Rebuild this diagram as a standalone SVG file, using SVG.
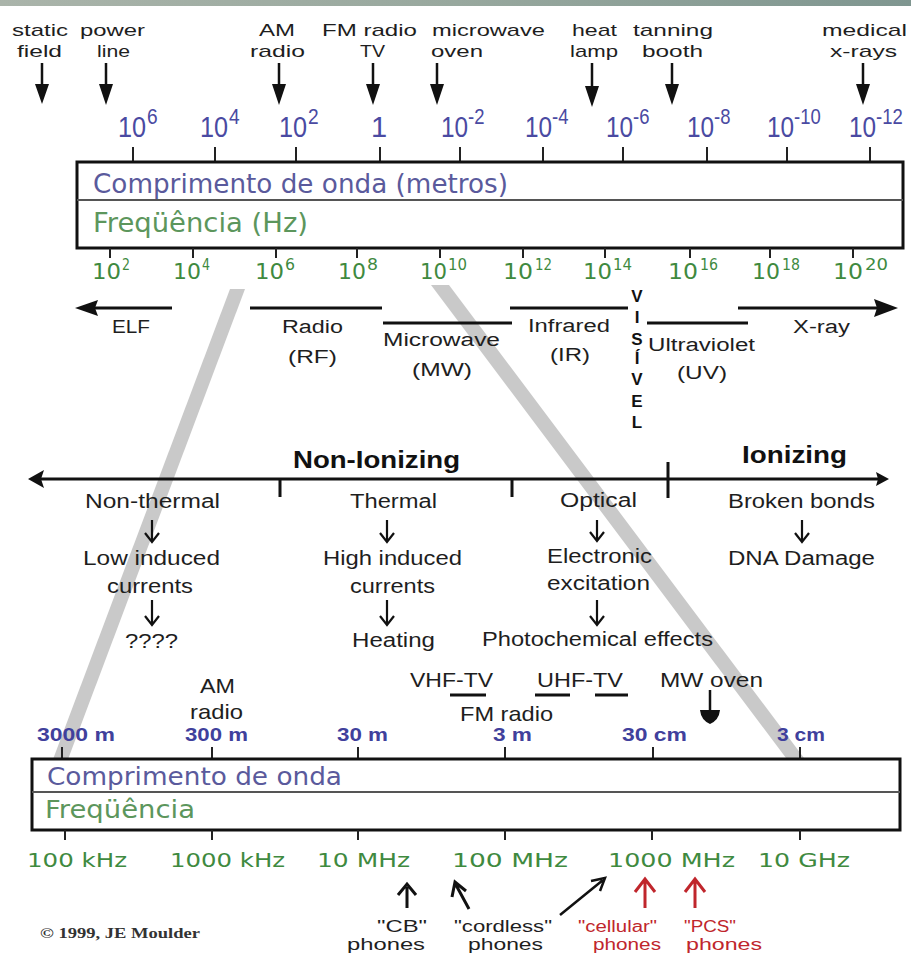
<svg xmlns="http://www.w3.org/2000/svg" width="911" height="956" viewBox="0 0 911 956">
<defs>
<linearGradient id="strip" x1="0" y1="0" x2="1" y2="0">
<stop offset="0" stop-color="#aab4aa"/>
<stop offset="0.5" stop-color="#98a89e"/>
<stop offset="1" stop-color="#7f9690"/>
</linearGradient>
<style>
.t{font-family:"Liberation Sans",Arial,sans-serif;fill:#1e1e1e}
.top{font-size:17px}
.bnd{font-size:18px}
.eff{font-size:20px}
.low{font-size:21px}
.ph{font-size:16px}
.b{font-weight:bold;fill:#111}
.red{fill:#c0262c}
.vis{font-family:"Liberation Sans",Arial,sans-serif;font-weight:bold;font-size:17px;fill:#111;text-anchor:middle}
.nt{font-family:"Liberation Sans",Arial,sans-serif;font-size:29px;fill:#4a4aa2}
.sup{font-size:22px}
.nf{font-family:"DejaVu Sans",sans-serif;font-size:21px;fill:#3f8a3f}
.nfs{font-family:"DejaVu Sans",sans-serif;font-size:15px;fill:#3f8a3f}
.bw{font-family:"DejaVu Sans",sans-serif;font-size:26px;fill:#5a5a9c}
.bf{font-family:"DejaVu Sans",sans-serif;font-size:26px;fill:#5c965c}
.sw{font-family:"Liberation Sans",Arial,sans-serif;font-size:19px;font-weight:bold;fill:#40409c}
.sf{font-family:"DejaVu Sans",sans-serif;font-size:20px;fill:#3f8a3f}
.cp{font-family:"Liberation Serif","Times New Roman",serif;font-size:14px;font-weight:bold;fill:#333}
.ln{stroke:#111;stroke-width:3;fill:none}
.thin{stroke:#111;stroke-width:2.2;fill:none}
.tk{stroke:#222;stroke-width:2}
.gb{fill:#c9c9c9}
.box{fill:#fff;stroke:#111;stroke-width:3}
.div{stroke:#555;stroke-width:2}
.ah{fill:#111}
.rl{stroke:#c0262c;stroke-width:3;fill:none}
</style>
</defs>
<rect width="911" height="956" fill="#fff"/>
<rect x="0" y="0" width="911" height="6" fill="url(#strip)"/>

<g id="gray-bands">
<polygon class="gb" points="230,289 245,289 67,762 52,762"/>
<polygon class="gb" points="431,285 449,285 807,762 789,762"/>
</g>

<g id="sources-top">
<text class="t top" x="12" y="36" textLength="56" lengthAdjust="spacingAndGlyphs">static</text>
<text class="t top" x="17" y="57" textLength="45" lengthAdjust="spacingAndGlyphs">field</text>
<text class="t top" x="80" y="36" textLength="65" lengthAdjust="spacingAndGlyphs">power</text>
<text class="t top" x="97" y="57" textLength="33" lengthAdjust="spacingAndGlyphs">line</text>
<text class="t top" x="259" y="36" textLength="36" lengthAdjust="spacingAndGlyphs">AM</text>
<text class="t top" x="250" y="57" textLength="55" lengthAdjust="spacingAndGlyphs">radio</text>
<text class="t top" x="322" y="36" textLength="95" lengthAdjust="spacingAndGlyphs">FM radio</text>
<text class="t top" x="360" y="57" textLength="25" lengthAdjust="spacingAndGlyphs">TV</text>
<text class="t top" x="432" y="36" textLength="113" lengthAdjust="spacingAndGlyphs">microwave</text>
<text class="t top" x="431" y="57" textLength="52" lengthAdjust="spacingAndGlyphs">oven</text>
<text class="t top" x="572" y="36" textLength="45" lengthAdjust="spacingAndGlyphs">heat</text>
<text class="t top" x="570" y="57" textLength="48" lengthAdjust="spacingAndGlyphs">lamp</text>
<text class="t top" x="633" y="36" textLength="80" lengthAdjust="spacingAndGlyphs">tanning</text>
<text class="t top" x="642" y="57" textLength="61" lengthAdjust="spacingAndGlyphs">booth</text>
<text class="t top" x="822" y="36" textLength="85" lengthAdjust="spacingAndGlyphs">medical</text>
<text class="t top" x="830" y="57" textLength="67" lengthAdjust="spacingAndGlyphs">x-rays</text>
</g>

<g id="wavelength-scale">
<text class="nt" transform="translate(118,137) scale(0.87,1)">10<tspan class="sup" dx="1" dy="-13">6</tspan></text>
<text class="nt" transform="translate(200,137) scale(0.87,1)">10<tspan class="sup" dx="1" dy="-13">4</tspan></text>
<text class="nt" transform="translate(279,137) scale(0.87,1)">10<tspan class="sup" dx="1" dy="-13">2</tspan></text>
<text class="nt" x="379" y="137" text-anchor="middle">1</text>
<text class="nt" transform="translate(441,137) scale(0.84,1)">10<tspan class="sup" dx="0" dy="-13">-2</tspan></text>
<text class="nt" transform="translate(525,137) scale(0.84,1)">10<tspan class="sup" dx="0" dy="-13">-4</tspan></text>
<text class="nt" transform="translate(606,137) scale(0.84,1)">10<tspan class="sup" dx="0" dy="-13">-6</tspan></text>
<text class="nt" transform="translate(687,137) scale(0.84,1)">10<tspan class="sup" dx="0" dy="-13">-8</tspan></text>
<text class="nt" transform="translate(767,137) scale(0.84,1)">10<tspan class="sup" dx="0" dy="-13">-10</tspan></text>
<text class="nt" transform="translate(849,137) scale(0.84,1)">10<tspan class="sup" dx="0" dy="-13">-12</tspan></text>
<path class="tk" d="M133,147V162M215,147V162M296,147V162M380,147V162M460,147V162M543,147V162M623,147V162M707,147V162M787,147V162M870,147V162"/>
</g>

<g id="main-box">
<rect class="box" x="77" y="162" width="826" height="86"/>
<line class="div" x1="77" y1="200" x2="903" y2="200"/>
<text class="bw" x="93" y="193" textLength="415" lengthAdjust="spacingAndGlyphs">Comprimento de onda (metros)</text>
<text class="bf" x="93" y="232" textLength="215" lengthAdjust="spacingAndGlyphs">Freqüência (Hz)</text>
</g>

<g id="frequency-scale">
<path class="tk" d="M110,248V258M193,248V258M276,248V258M357,248V258M440,248V258M523,248V258M605,248V258M690,248V258M770,248V258M853,248V258"/>
<text class="nf" x="92" y="279" textLength="29" lengthAdjust="spacingAndGlyphs">10</text><text class="nfs" x="122" y="270" textLength="8" lengthAdjust="spacingAndGlyphs">2</text>
<text class="nf" x="173" y="279" textLength="28" lengthAdjust="spacingAndGlyphs">10</text><text class="nfs" x="202" y="270" textLength="8" lengthAdjust="spacingAndGlyphs">4</text>
<text class="nf" x="255" y="279" textLength="29" lengthAdjust="spacingAndGlyphs">10</text><text class="nfs" x="285" y="270" textLength="10" lengthAdjust="spacingAndGlyphs">6</text>
<text class="nf" x="338" y="279" textLength="28" lengthAdjust="spacingAndGlyphs">10</text><text class="nfs" x="367" y="270" textLength="11" lengthAdjust="spacingAndGlyphs">8</text>
<text class="nf" x="420" y="279" textLength="27" lengthAdjust="spacingAndGlyphs">10</text><text class="nfs" x="448" y="270" textLength="19" lengthAdjust="spacingAndGlyphs">10</text>
<text class="nf" x="503" y="279" textLength="30" lengthAdjust="spacingAndGlyphs">10</text><text class="nfs" x="535" y="270" textLength="17" lengthAdjust="spacingAndGlyphs">12</text>
<text class="nf" x="583" y="279" textLength="29" lengthAdjust="spacingAndGlyphs">10</text><text class="nfs" x="613" y="270" textLength="19" lengthAdjust="spacingAndGlyphs">14</text>
<text class="nf" x="668" y="279" textLength="30" lengthAdjust="spacingAndGlyphs">10</text><text class="nfs" x="700" y="270" textLength="18" lengthAdjust="spacingAndGlyphs">16</text>
<text class="nf" x="752" y="279" textLength="28" lengthAdjust="spacingAndGlyphs">10</text><text class="nfs" x="782" y="270" textLength="18" lengthAdjust="spacingAndGlyphs">18</text>
<text class="nf" x="833" y="279" textLength="30" lengthAdjust="spacingAndGlyphs">10</text><text class="nfs" x="865" y="270" textLength="23" lengthAdjust="spacingAndGlyphs">20</text>
</g>

<g id="band-elf">
<text class="t bnd" x="112" y="333" textLength="38" lengthAdjust="spacingAndGlyphs">ELF</text>
</g>
<g id="band-radio">
<text class="t bnd" x="282" y="333" textLength="61" lengthAdjust="spacingAndGlyphs">Radio</text>
<text class="t bnd" x="288" y="363" textLength="49" lengthAdjust="spacingAndGlyphs">(RF)</text>
</g>
<g id="band-microwave">
<text class="t bnd" x="383" y="346" textLength="117" lengthAdjust="spacingAndGlyphs">Microwave</text>
<text class="t bnd" x="412" y="376" textLength="60" lengthAdjust="spacingAndGlyphs">(MW)</text>
</g>
<g id="band-infrared">
<text class="t bnd" x="528" y="332" textLength="82" lengthAdjust="spacingAndGlyphs">Infrared</text>
<text class="t bnd" x="550" y="361" textLength="40" lengthAdjust="spacingAndGlyphs">(IR)</text>
</g>
<g id="band-visivel">
<text class="vis" x="637" y="302">V</text>
<text class="vis" x="637" y="323">I</text>
<text class="vis" x="637" y="345">S</text>
<text class="vis" x="637" y="364">Í</text>
<text class="vis" x="637" y="385">V</text>
<text class="vis" x="637" y="407">E</text>
<text class="vis" x="637" y="428">L</text>
</g>
<g id="band-uv">
<text class="t bnd" x="648" y="351" textLength="107" lengthAdjust="spacingAndGlyphs">Ultraviolet</text>
<text class="t bnd" x="677" y="379" textLength="50" lengthAdjust="spacingAndGlyphs">(UV)</text>
</g>
<g id="band-xray">
<text class="t bnd" x="793" y="333" textLength="57" lengthAdjust="spacingAndGlyphs">X-ray</text>
</g>

<g id="ionizing-axis">
<text class="t b" style="font-size:24px" x="293" y="468" textLength="167" lengthAdjust="spacingAndGlyphs">Non-Ionizing</text>
<text class="t b" style="font-size:24px" x="742" y="463" textLength="105" lengthAdjust="spacingAndGlyphs">Ionizing</text>
</g>

<g id="effect-nonthermal">
<text class="t eff" x="85" y="508" textLength="135" lengthAdjust="spacingAndGlyphs">Non-thermal</text>
<text class="t eff" x="83" y="565" textLength="137" lengthAdjust="spacingAndGlyphs">Low induced</text>
<text class="t eff" x="107" y="593" textLength="86" lengthAdjust="spacingAndGlyphs">currents</text>
<text class="t eff" x="125" y="648" textLength="53" lengthAdjust="spacingAndGlyphs">????</text>
</g>
<g id="effect-thermal">
<text class="t eff" x="350" y="508" textLength="87" lengthAdjust="spacingAndGlyphs">Thermal</text>
<text class="t eff" x="323" y="565" textLength="139" lengthAdjust="spacingAndGlyphs">High induced</text>
<text class="t eff" x="350" y="593" textLength="85" lengthAdjust="spacingAndGlyphs">currents</text>
<text class="t eff" x="352" y="647" textLength="83" lengthAdjust="spacingAndGlyphs">Heating</text>
</g>
<g id="effect-optical">
<text class="t eff" x="560" y="507" textLength="77" lengthAdjust="spacingAndGlyphs">Optical</text>
<text class="t eff" x="547" y="563" textLength="105" lengthAdjust="spacingAndGlyphs">Electronic</text>
<text class="t eff" x="547" y="590" textLength="103" lengthAdjust="spacingAndGlyphs">excitation</text>
<text class="t eff" x="482" y="646" textLength="231" lengthAdjust="spacingAndGlyphs">Photochemical effects</text>
</g>
<g id="effect-ionizing">
<text class="t eff" x="728" y="508" textLength="147" lengthAdjust="spacingAndGlyphs">Broken bonds</text>
<text class="t eff" x="728" y="565" textLength="147" lengthAdjust="spacingAndGlyphs">DNA Damage</text>
</g>

<g id="lower-sources">
<text class="t low" x="200" y="693" textLength="35" lengthAdjust="spacingAndGlyphs">AM</text>
<text class="t low" x="190" y="719" textLength="53" lengthAdjust="spacingAndGlyphs">radio</text>
<text class="t low" x="410" y="687" textLength="83" lengthAdjust="spacingAndGlyphs">VHF-TV</text>
<text class="t low" x="537" y="687" textLength="86" lengthAdjust="spacingAndGlyphs">UHF-TV</text>
<text class="t low" x="660" y="687" textLength="103" lengthAdjust="spacingAndGlyphs">MW oven</text>
<text class="t low" x="460" y="721" textLength="93" lengthAdjust="spacingAndGlyphs">FM radio</text>
</g>

<g id="lower-wavelength">
<text class="sw" x="37" y="741" textLength="78" lengthAdjust="spacingAndGlyphs">3000 m</text>
<text class="sw" x="185" y="741" textLength="63" lengthAdjust="spacingAndGlyphs">300 m</text>
<text class="sw" x="337" y="741" textLength="51" lengthAdjust="spacingAndGlyphs">30 m</text>
<text class="sw" x="493" y="741" textLength="39" lengthAdjust="spacingAndGlyphs">3 m</text>
<text class="sw" x="622" y="741" textLength="65" lengthAdjust="spacingAndGlyphs">30 cm</text>
<text class="sw" x="777" y="741" textLength="48" lengthAdjust="spacingAndGlyphs">3 cm</text>
<path class="tk" d="M62,747V759M212,747V759M358,747V759M505,747V759M653,747V759M800,747V759"/>
</g>

<g id="lower-box">
<rect class="box" x="32" y="759" width="868" height="71"/>
<line class="div" x1="32" y1="792" x2="900" y2="792"/>
<text class="bw" style="font-size:24px" x="47" y="785" textLength="295" lengthAdjust="spacingAndGlyphs">Comprimento de onda</text>
<text class="bf" style="font-size:24px" x="45" y="818" textLength="150" lengthAdjust="spacingAndGlyphs">Freqüência</text>
</g>

<g id="lower-frequency">
<path class="tk" d="M65,830V840M212,830V840M358,830V840M505,830V840M652,830V840M800,830V840"/>
<text class="sf" x="27" y="867" textLength="100" lengthAdjust="spacingAndGlyphs">100 kHz</text>
<text class="sf" x="170" y="867" textLength="115" lengthAdjust="spacingAndGlyphs">1000 kHz</text>
<text class="sf" x="317" y="867" textLength="93" lengthAdjust="spacingAndGlyphs">10 MHz</text>
<text class="sf" x="452" y="867" textLength="116" lengthAdjust="spacingAndGlyphs">100 MHz</text>
<text class="sf" x="608" y="867" textLength="127" lengthAdjust="spacingAndGlyphs">1000 MHz</text>
<text class="sf" x="758" y="867" textLength="92" lengthAdjust="spacingAndGlyphs">10 GHz</text>
</g>

<g id="phones-cb">
<text class="t ph" x="377" y="932" textLength="50" lengthAdjust="spacingAndGlyphs">"CB"</text>
<text class="t ph" x="347" y="950" textLength="78" lengthAdjust="spacingAndGlyphs">phones</text>
</g>
<g id="phones-cordless">
<text class="t ph" x="454" y="932" textLength="98" lengthAdjust="spacingAndGlyphs">"cordless"</text>
<text class="t ph" x="468" y="950" textLength="75" lengthAdjust="spacingAndGlyphs">phones</text>
</g>
<g id="phones-cellular">
<text class="t ph red" x="578" y="932" textLength="79" lengthAdjust="spacingAndGlyphs">"cellular"</text>
<text class="t ph red" x="593" y="950" textLength="68" lengthAdjust="spacingAndGlyphs">phones</text>
</g>
<g id="phones-pcs">
<text class="t ph red" x="684" y="932" textLength="52" lengthAdjust="spacingAndGlyphs">"PCS"</text>
<text class="t ph red" x="686" y="950" textLength="76" lengthAdjust="spacingAndGlyphs">phones</text>
</g>

<g id="copyright">
<text class="cp" x="40" y="938" textLength="160" lengthAdjust="spacingAndGlyphs">© 1999, JE Moulder</text>
</g>

<g id="connectors">
<path class="thin" style="stroke-width:2.5" d="M42,63V86M106,63V86M279,63V86M373,63V86M437,63V86M592,63V88M672,63V86M863,63V86"/>
<path class="ah" d="M35,84H49L42,104ZM99,84H113L106,105ZM272,84H286L279,105ZM366,84H380L373,105ZM430,84H444L437,105ZM585,86H599L592,107ZM665,84H679L672,105ZM856,84H870L863,105Z"/>
<line class="ln" x1="88" y1="308" x2="172" y2="308"/>
<path class="ah" d="M75,308L98,300L95,308L98,316Z"/>
<line class="ln" x1="250" y1="308" x2="382" y2="308"/>
<line class="ln" x1="383" y1="323" x2="512" y2="323"/>
<line class="ln" x1="510" y1="308" x2="628" y2="308"/>
<line class="ln" x1="647" y1="323" x2="748" y2="323"/>
<line class="ln" x1="738" y1="308" x2="882" y2="308"/>
<path class="ah" d="M898,308L874,299L877,308L874,317Z"/>
<line class="ln" x1="38" y1="479" x2="880" y2="479"/>
<path class="ah" d="M28,479L44,470L41,479L44,488Z"/>
<path class="ah" d="M889,479L876,472L878,479L876,486Z"/>
<path class="ln" d="M280,479V497M512,479V497M668,462V498"/>
<path class="thin" d="M152,520V542M145,533L152,542L159,533M152,600V625M145,616L152,625L159,616M387,520V542M380,533L387,542L394,533M387,600V625M380,616L387,625L394,616M597,520V541M590,532L597,541L604,532M597,600V625M590,616L597,625L604,616M802,520V542M795,533L802,542L809,533"/>
<path class="ln" d="M450,695H486M535,695H570M595,695H628"/>
<line class="thin" style="stroke-width:2.5" x1="710" y1="690" x2="710" y2="712"/>
<path class="ah" d="M700,710H720Q719,720 710,724Q701,720 700,710Z"/>
<path class="ln" d="M407,908V887M398,895L407,884L416,895"/>
<path class="ln" d="M469,909L456,885M452,897L455,882L466,891"/>
<path class="thin" style="stroke-width:2.5" d="M560,915L603,880M591,881L605,878L600,891"/>
<path class="rl" d="M645,908V881M635,892L645,879L655,892M695,908V881M685,892L695,879L705,892"/>
</g>
</svg>
